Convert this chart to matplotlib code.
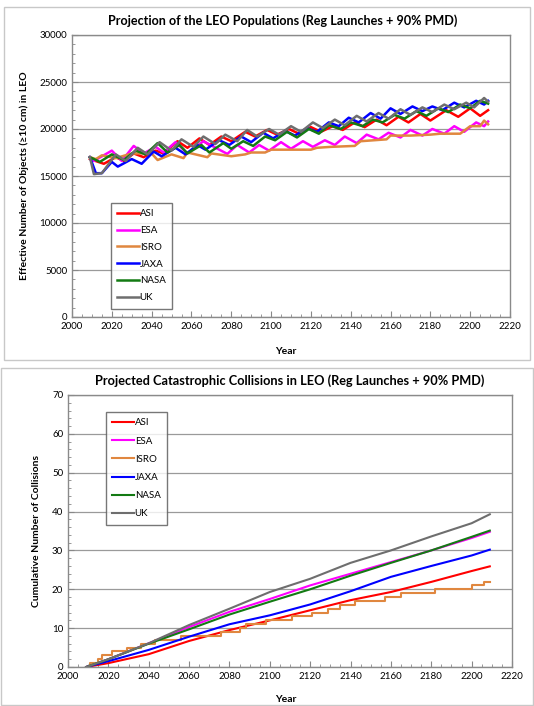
import matplotlib
matplotlib.use('Agg')
import matplotlib.pyplot as plt
from matplotlib.patches import Rectangle
from matplotlib.ticker import MultipleLocator

plt.rcParams['font.family'] = ['Lato', 'DejaVu Sans']

# ---- LEO population (turning points) ----
asi_yr = [2009, 2016, 2022, 2026, 2031, 2036, 2042, 2046, 2053, 2058, 2064, 2069, 2075, 2080,
          2087, 2092, 2098, 2103, 2109, 2114, 2120, 2125, 2131, 2136, 2142, 2147, 2153, 2158,
          2164, 2169, 2175, 2180, 2188, 2194, 2200, 2205, 2209]
asi_pop = [16800, 16300, 17000, 16600, 17400, 17000, 17700, 17400, 18700, 18000, 19000, 18300,
           19200, 18700, 19700, 19200, 19900, 19400, 20000, 19500, 20200, 19700, 20300, 19900,
           20700, 20200, 21000, 20400, 21300, 20700, 21600, 20900, 22000, 21300, 22200, 21400, 22000]

esa_yr = [2009, 2011, 2020, 2025, 2031, 2036, 2042, 2046, 2052, 2058, 2066, 2078, 2083, 2089,
          2094, 2099, 2105, 2110, 2116, 2121, 2127, 2132, 2137, 2143, 2148, 2154, 2159, 2165,
          2170, 2176, 2181, 2187, 2192, 2197, 2203, 2207, 2209]
esa_pop = [17000, 16600, 17700, 16600, 18200, 17400, 18100, 17500, 18600, 17400, 18700, 17350,
           18300, 17500, 18300, 17700, 18600, 17900, 18700, 18100, 18800, 18300, 19200, 18500,
           19400, 18900, 19600, 19100, 19900, 19300, 20000, 19500, 20300, 19700, 20700, 20300, 20800]

isro_yr = [2009, 2012, 2015, 2022, 2030, 2040, 2043, 2050, 2056, 2058, 2068, 2070, 2080, 2087,
           2090, 2097, 2100, 2110, 2120, 2123, 2130, 2142, 2145, 2158, 2160, 2170, 2180, 2185,
           2195, 2200, 2205, 2207, 2209]
isro_pop = [17000, 16800, 17200, 16900, 17400, 17400, 16700, 17300, 16900, 17500, 17000, 17400,
            17100, 17300, 17500, 17500, 17800, 17800, 17800, 18000, 18100, 18200, 18700, 18900,
            19300, 19300, 19400, 19500, 19500, 20300, 20300, 20900, 20500]

jaxa_yr = [2009, 2012, 2015, 2020, 2023, 2030, 2035, 2041, 2045, 2052, 2057, 2063, 2067, 2074,
           2079, 2085, 2090, 2096, 2101, 2107, 2112, 2118, 2123, 2129, 2134, 2139, 2144, 2150,
           2155, 2160, 2165, 2171, 2176, 2181, 2186, 2192, 2197, 2203, 2207, 2209]
jaxa_pop = [17000, 15300, 15300, 16500, 16000, 16800, 16300, 17600, 17100, 18000, 17300, 18300,
            17800, 18800, 18300, 19200, 18600, 19600, 19000, 19800, 19300, 20100, 19700, 20700,
            20300, 21200, 20700, 21700, 21100, 22200, 21600, 22400, 21900, 22400, 22000, 22800,
            22300, 23000, 22600, 23000]

nasa_yr = [2009, 2014, 2020, 2026, 2032, 2037, 2043, 2048, 2054, 2058, 2065, 2069, 2076, 2080,
           2086, 2091, 2097, 2102, 2108, 2113, 2119, 2124, 2129, 2135, 2140, 2146, 2151, 2156,
           2162, 2167, 2173, 2178, 2184, 2189, 2195, 2200, 2205, 2209]
nasa_pop = [17000, 16500, 17300, 16700, 17700, 17300, 18500, 17500, 18300, 17400, 18300, 17500,
            18500, 17900, 18700, 18200, 19200, 18800, 19700, 19100, 20000, 19500, 20400, 20000,
            20700, 20300, 21000, 20700, 21500, 21100, 21900, 21400, 22200, 21800, 22600, 22200,
            23000, 22700]

uk_yr = [2009, 2011, 2015, 2022, 2027, 2033, 2038, 2044, 2050, 2055, 2061, 2066, 2072, 2077,
         2083, 2088, 2093, 2099, 2104, 2110, 2115, 2121, 2126, 2132, 2137, 2143, 2148, 2154,
         2159, 2165, 2170, 2176, 2181, 2187, 2192, 2198, 2202, 2207, 2209]
uk_pop = [17000, 15200, 15300, 17300, 16600, 18000, 17300, 18600, 17700, 18900, 18100, 19200,
          18400, 19400, 18700, 19900, 19200, 20000, 19400, 20300, 19700, 20700, 20100, 21000,
          20400, 21400, 20800, 21700, 21100, 22100, 21500, 22300, 21800, 22600, 22100, 22800,
          22300, 23300, 22900]

# ---- cumulative catastrophic collisions ----
coll_yr = [2009, 2020, 2040, 2060, 2080, 2100, 2120, 2140, 2160, 2180, 2200, 2209]
asi_coll = [0, 1.0, 3.3, 6.7, 9.5, 12.0, 14.6, 17.2, 19.3, 21.9, 24.7, 25.9]
esa_coll = [0, 2.0, 6.1, 10.3, 14.2, 17.5, 21.0, 24.0, 27.0, 30.0, 33.2, 34.8]
jaxa_coll = [0, 1.5, 4.4, 7.8, 11.0, 13.3, 16.1, 19.5, 23.2, 26.0, 28.7, 30.2]
nasa_coll = [0, 2.0, 6.0, 9.7, 13.5, 16.8, 20.0, 23.5, 26.8, 30.0, 33.5, 35.1]
uk_coll = [0, 2.0, 6.1, 10.8, 15.0, 19.3, 22.7, 26.8, 30.0, 33.6, 37.0, 39.3]

isro_step_yr = [2009, 2011, 2015, 2017, 2022, 2029, 2036, 2043, 2056, 2076, 2085, 2088, 2098,
                2111, 2121, 2129, 2135, 2142, 2157, 2165, 2182, 2200, 2206, 2209]
isro_coll = [0, 1, 2, 3, 4, 5, 6, 7, 8, 9, 10, 11, 12, 13, 14, 15, 16, 17, 18, 19, 20, 21, 22, 22]

labels = ['ASI', 'ESA', 'ISRO', 'JAXA', 'NASA', 'UK']
colors = ['#ff0000', '#ff00ff', '#e0873f', '#0000ff', '#137a13', '#6e6e6e']

W, H = 534, 706
fig = plt.figure(figsize=(W / 100, H / 100), dpi=100)


def px_axes(x0, y0, x1, y1):
    return fig.add_axes([x0 / W, 1 - y1 / H, (x1 - x0) / W, (y1 - y0) / H])


def style(ax, ymax, ymaj, ymin):
    ax.set_xlim(2000, 2220)
    ax.set_ylim(0, ymax)
    ax.xaxis.set_major_locator(MultipleLocator(20))
    ax.xaxis.set_minor_locator(MultipleLocator(5))
    ax.yaxis.set_major_locator(MultipleLocator(ymaj))
    ax.yaxis.set_minor_locator(MultipleLocator(ymin))
    ax.tick_params(which='both', direction='in', labelsize=7, color='#888888',
                   top=False, right=False)
    ax.tick_params(which='major', length=4)
    ax.tick_params(which='minor', length=2)
    ax.grid(axis='y', which='major', color='#9a9a9a', lw=0.9)
    ax.set_axisbelow(True)
    for s in ax.spines.values():
        s.set_color('#8a8a8a')
        s.set_linewidth(1.0)


# chart frames
fig.patches.append(Rectangle((4 / W, 1 - 360 / H), 526 / W, 353 / H, transform=fig.transFigure,
                             fill=False, ec='#c8c8c8', lw=1.0))
fig.patches.append(Rectangle((1 / W, 1 - 705 / H), 532 / W, 337 / H, transform=fig.transFigure,
                             fill=False, ec='#c8c8c8', lw=1.0))

# ---- top chart ----
ax1 = px_axes(72, 35, 510, 317)
pop_sets = [(asi_yr, asi_pop), (esa_yr, esa_pop), (isro_yr, isro_pop),
            (jaxa_yr, jaxa_pop), (nasa_yr, nasa_pop), (uk_yr, uk_pop)]
for (yr, vals), lab, c in zip(pop_sets, labels, colors):
    ax1.plot(yr, vals, color=c, lw=1.8, label=lab)
style(ax1, 30000, 5000, 1000)
leg = ax1.legend(loc='upper left', bbox_to_anchor=((111 - 72) / 438, (317 - 203) / 282),
                 fontsize=7, handlelength=2.2, handletextpad=0.1, labelspacing=0.8,
                 fancybox=False, edgecolor='#555555', borderpad=0.65, borderaxespad=0)
leg.get_frame().set_linewidth(1.0)
fig.text(283 / W, 1 - 21 / H, 'Projection of the LEO Populations (Reg Launches + 90% PMD)',
         ha='center', va='center', fontsize=9.1, fontweight='bold')
fig.text(24 / W, 1 - 176 / H, 'Effective Number of Objects (\u226510 cm) in LEO', rotation=90,
         ha='center', va='center', fontsize=7.5, fontweight='bold',
         family=['Lato', 'DejaVu Sans'])
fig.text(286 / W, 1 - 352 / H, 'Year', ha='center', va='center', fontsize=7.5,
         fontweight='bold')

# ---- bottom chart ----
ax2 = px_axes(68, 395, 512, 667)
coll_sets = [asi_coll, esa_coll, None, jaxa_coll, nasa_coll, uk_coll]
for vals, lab, c in zip(coll_sets, labels, colors):
    if vals is None:
        ax2.step(isro_step_yr, isro_coll, where='post', color=c, lw=1.5, label=lab)
    else:
        ax2.plot(coll_yr, vals, color=c, lw=1.5, label=lab)
style(ax2, 70, 10, 2)
leg2 = ax2.legend(loc='upper left', bbox_to_anchor=((106 - 68) / 444, (667 - 412) / 272),
                  fontsize=7, handlelength=2.2, handletextpad=0.1, labelspacing=0.95,
                  fancybox=False, edgecolor='#555555', borderpad=0.65, borderaxespad=0)
leg2.get_frame().set_linewidth(1.0)
fig.text(290 / W, 1 - 381 / H, 'Projected Catastrophic Collisions in LEO (Reg Launches + 90% PMD)',
         ha='center', va='center', fontsize=9.2, fontweight='bold')
fig.text(37 / W, 1 - 531 / H, 'Cumulative Number of Collisions', rotation=90,
         ha='center', va='center', fontsize=7.5, fontweight='bold')
fig.text(286 / W, 1 - 700 / H, 'Year', ha='center', va='center', fontsize=7.5,
         fontweight='bold')

fig.savefig('out.png', dpi=100)
